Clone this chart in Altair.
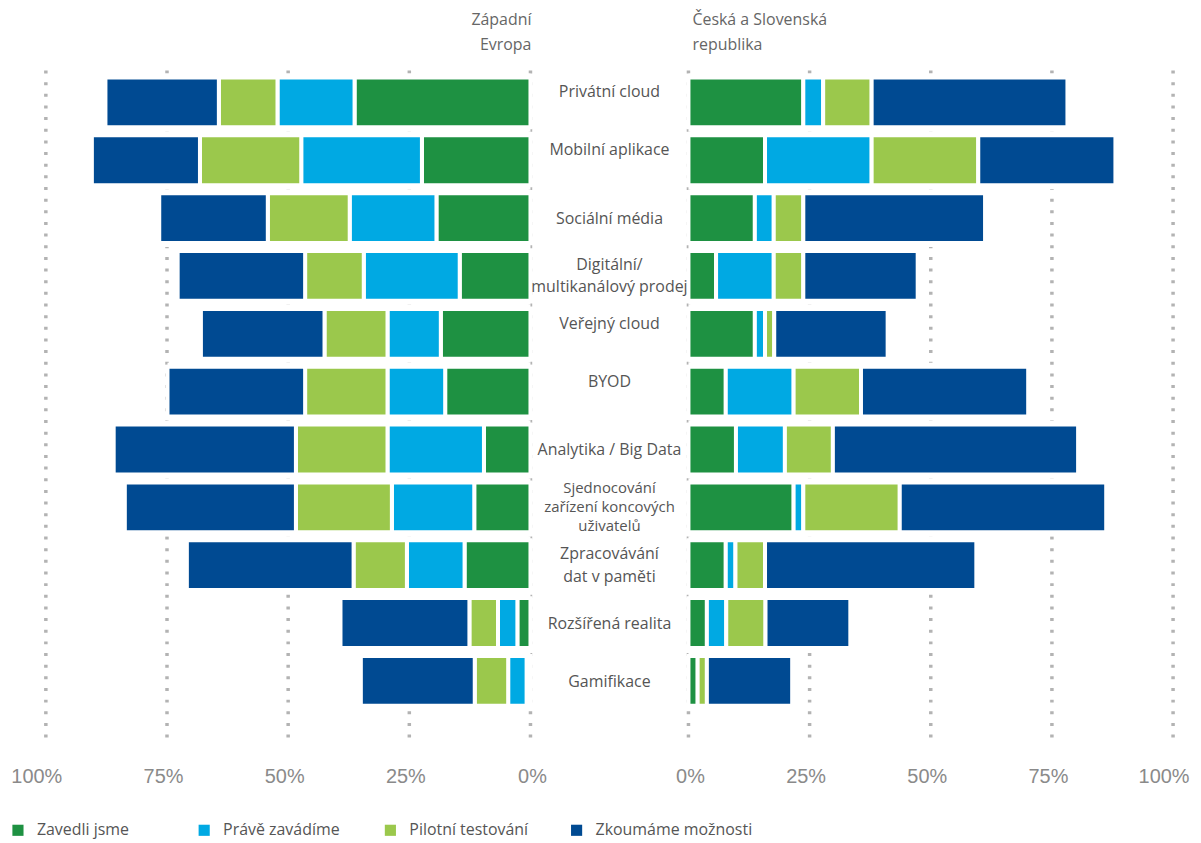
import altair as alt
import pandas as pd

# ---------------- data ----------------
categories = [
    "Privátní cloud", "Mobilní aplikace", "Sociální média",
    "Digitální/multikanálový prodej", "Veřejný cloud", "BYOD",
    "Analytika / Big Data", "Sjednocování zařízení koncových uživatelů",
    "Zpracovávání dat v paměti", "Rozšířená realita", "Gamifikace",
]
category_labels = [
    "Privátní cloud", "Mobilní aplikace", "Sociální média",
    "Digitální/\nmultikanálový prodej", "Veřejný cloud", "BYOD",
    "Analytika / Big Data", "Sjednocování\nzařízení koncových\nuživatelů",
    "Zpracovávání\ndat v paměti", "Rozšířená realita", "Gamifikace",
]
# labels that sit a little above the bar centre in the original
raised_labels = ["Privátní cloud", "Mobilní aplikace", "Veřejný cloud", "BYOD"]

statuses = ["Zavedli jsme", "Právě zavádíme", "Pilotní testování", "Zkoumáme možnosti"]
status_colors = ["#1e9142", "#00a9e3", "#9bc84c", "#004a92"]

region_titles = ["Západní\nEvropa", "Česká a Slovenská\nrepublika"]

# Západní Evropa (%)
we_zavedli  = [36.3, 22.4, 19.4, 14.6, 18.5, 17.6,  9.6, 11.6, 13.6, 2.7, 0.8]
we_zavadime = [15.9, 24.9, 17.9, 19.8, 11.0, 11.9, 19.9, 17.0, 11.9, 4.0, 3.8]
we_pilot    = [12.1, 20.9, 16.9, 12.1, 13.0, 17.0, 18.9, 19.8, 11.0, 5.9, 6.9]
we_zkoumame = [23.4, 22.3, 22.4, 26.3, 25.5, 28.4, 37.6, 35.3, 34.4, 26.6, 23.5]

# Česká a Slovenská republika (%)
cz_zavedli  = [23.7, 15.8, 13.7,  5.7, 13.7,  7.7,  9.8, 21.7,  7.7, 3.8, 1.9]
cz_zavadime = [ 4.1, 22.0,  3.9, 11.9,  2.1, 14.0, 10.1,  2.0,  2.0, 4.0, 0.0]
cz_pilot    = [10.0, 22.0,  6.1,  6.1,  1.9, 13.9,  9.9, 19.9,  6.1, 8.1, 1.9]
cz_zkoumame = [40.4, 28.3, 37.5, 23.6, 23.4, 34.5, 50.6, 42.6, 43.6, 17.5, 17.6]

tick_values = [100, 75, 50, 25, 0]

# half of the gap (in % units) between the two panels, where the labels sit
GAP = 16.3
DOM = 100 + GAP

# ---------------- tables ----------------
seg_rows, cover_rows = [], []
for sign, series in [(-1, [we_zavedli, we_zavadime, we_pilot, we_zkoumame]),
                     (1, [cz_zavedli, cz_zavadime, cz_pilot, cz_zkoumame])]:
    for i, cat in enumerate(categories):
        start = 0.0
        for s, vals in zip(statuses, series):
            v = vals[i]
            if v > 0:
                seg_rows.append({"cat": cat, "status": s,
                                 "x": sign * (GAP + start), "x2": sign * (GAP + start + v)})
            start += v
        cover_rows.append({"cat": cat, "x": sign * GAP, "x2": sign * (GAP + start)})

seg_df = pd.DataFrame(seg_rows)
cover_df = pd.DataFrame(cover_rows)

label_df = pd.DataFrame({
    "cat": categories,
    "label": category_labels,
    "nlines": [lab.count("\n") + 1 for lab in category_labels],
    "raised": [c in raised_labels for c in categories],
    "x": 0.0,
})
title_left_df = pd.DataFrame({"t": [region_titles[0]], "x": [-GAP]})
title_right_df = pd.DataFrame({"t": [region_titles[1]], "x": [GAP]})

axis_vals = [-(GAP + v) for v in tick_values] + [GAP + v for v in tick_values]
grid_df = pd.DataFrame({"x": axis_vals})

x_scale = alt.Scale(domain=[-DOM, DOM], nice=False, zero=False)
y_scale = alt.Scale(domain=categories, range=[3, 642], paddingInner=0, paddingOuter=0)

x_axis = alt.Axis(
    values=axis_vals,
    labelExpr=f"round(abs(datum.value) - {GAP}) + '%'",
    grid=False, domain=False, ticks=False, title=None,
    labelFont="Liberation Sans", labelFontSize=20, labelColor="#8a8a8a",
    labelAlign="right", labelOffset=16, labelPadding=22,
    labelFlush=False, labelOverlap=False, labelBound=False,
)

base_y = alt.Y("cat:N", scale=y_scale, axis=None, sort=categories)

grid = alt.Chart(grid_df).mark_rule(
    color="#b3b3b3", strokeWidth=3.5, strokeDash=[3, 8.7]
).encode(
    x=alt.X("x:Q", scale=x_scale, axis=x_axis),
    y=alt.value(0),
    y2=alt.value(677),
)

cover = alt.Chart(cover_df).mark_bar(color="white").encode(
    x=alt.X("x:Q", scale=x_scale),
    x2="x2:Q",
    y=base_y,
)

bars = alt.Chart(seg_df).mark_bar(size=50, stroke="white", strokeWidth=4).encode(
    x=alt.X("x:Q", scale=x_scale),
    x2="x2:Q",
    y=base_y,
    color=alt.Color(
        "status:N",
        scale=alt.Scale(domain=statuses, range=status_colors),
        sort=statuses,
        legend=alt.Legend(
            title=None, orient="none", direction="horizontal",
            legendX=-36, legendY=755,
            symbolType="square", symbolSize=125, symbolStrokeWidth=0,
            labelFont="Open Sans", labelFontSize=16, labelColor="#555555",
            labelOffset=11, columnPadding=2, gridAlign="all", labelLimit=400,
        ),
    ),
)

label_style = dict(font="Open Sans", fontSize=16, color="#555555", align="center",
                   baseline="middle", lineBreak="\n")


def label_layer(filt, dy, line_height, size=16):
    style = dict(label_style, fontSize=size)
    return alt.Chart(label_df).transform_filter(filt).mark_text(
        dy=dy, lineHeight=line_height, **style
    ).encode(
        x=alt.X("x:Q", scale=x_scale),
        y=base_y,
        text="label:N",
    )


labels_plain = label_layer("datum.nlines == 1 && !datum.raised", 1, 18)
labels_raised = label_layer("datum.nlines == 1 && datum.raised", -10, 18)
labels_two = label_layer("datum.nlines == 2", -11, 22.5)
labels_three = label_layer("datum.nlines == 3", -19, 19, size=15)

title_style = dict(font="Open Sans", fontSize=16, color="#666666", baseline="top",
                   lineBreak="\n", lineHeight=25)

title_left = alt.Chart(title_left_df).mark_text(align="right", dx=1, **title_style).encode(
    x=alt.X("x:Q", scale=x_scale),
    y=alt.value(-59),
    text="t:N",
)
title_right = alt.Chart(title_right_df).mark_text(align="left", dx=4, **title_style).encode(
    x=alt.X("x:Q", scale=x_scale),
    y=alt.value(-59),
    text="t:N",
)

chart = alt.layer(
    grid, cover, bars, labels_plain, labels_raised, labels_two, labels_three,
    title_left, title_right,
).properties(
    width=1132, height=677,
    autosize=alt.AutoSizeParams(type="none"),
    padding={"left": 38, "top": 61, "right": 20, "bottom": 94},
    background="white",
).configure_view(stroke=None)

chart.save("out.html", embed_options={"renderer": "svg", "actions": False})
